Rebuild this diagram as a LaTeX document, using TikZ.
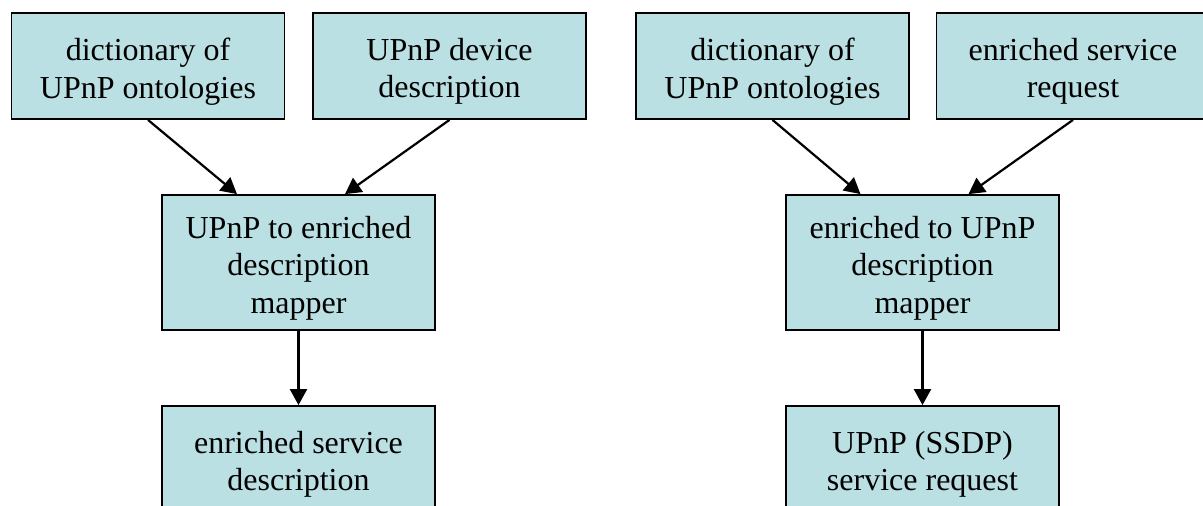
\documentclass[tikz,border=0pt]{standalone}
\usepackage{fontspec}
\setmainfont{Liberation Serif}
\usetikzlibrary{arrows.meta}
\definecolor{boxfill}{RGB}{187,224,227}
\begin{document}
\begin{tikzpicture}[x=1pt,y=-1pt,
  box/.style={draw=black, line width=1.8pt, fill=boxfill, minimum width=273pt, minimum height=106pt,
    inner sep=0pt},
  txt/.style={inner sep=0pt, align=center, yshift=-5.5pt, font=\fontsize{32}{37.5}\selectfont},
  tall/.style={minimum height=135pt},
  conn/.style={line width=2.2pt, -{Triangle[width=17pt,length=16pt]}}]
\useasboundingbox (0,0) rectangle (1203,506);
\node[box, label={[txt]center:{dictionary of\\UPnP ontologies}}] (A) at (148,66) {};
\node[box, label={[txt]center:{UPnP device\\description}}] (B) at (449.5,66) {};
\node[box,tall, label={[txt]center:{UPnP to enriched\\description\\mapper}}] (C) at (298.5,262.5) {};
\node[box, label={[txt]center:{enriched service\\description}}] (D) at (298.5,459) {};
\node[box, label={[txt]center:{dictionary of\\UPnP ontologies}}] (E) at (772.5,66) {};
\node[box, label={[txt]center:{enriched service\\request}}] (F) at (1073,66) {};
\node[box,tall, label={[txt]center:{enriched to UPnP\\description\\mapper}}] (G) at (922.5,262.5) {};
\node[box, label={[txt]center:{UPnP (SSDP)\\service request}}] (H) at (922.5,459) {};
\draw[conn] (A.south) -- ([xshift=-61.5pt]C.north);
\draw[conn] (B.south) -- ([xshift=46.5pt]C.north);
\draw[conn] (C.south) -- (D.north);
\draw[conn] (E.south) -- ([xshift=-62pt]G.north);
\draw[conn] (F.south) -- ([xshift=46pt]G.north);
\draw[conn] (G.south) -- (H.north);
\end{tikzpicture}
\end{document}
